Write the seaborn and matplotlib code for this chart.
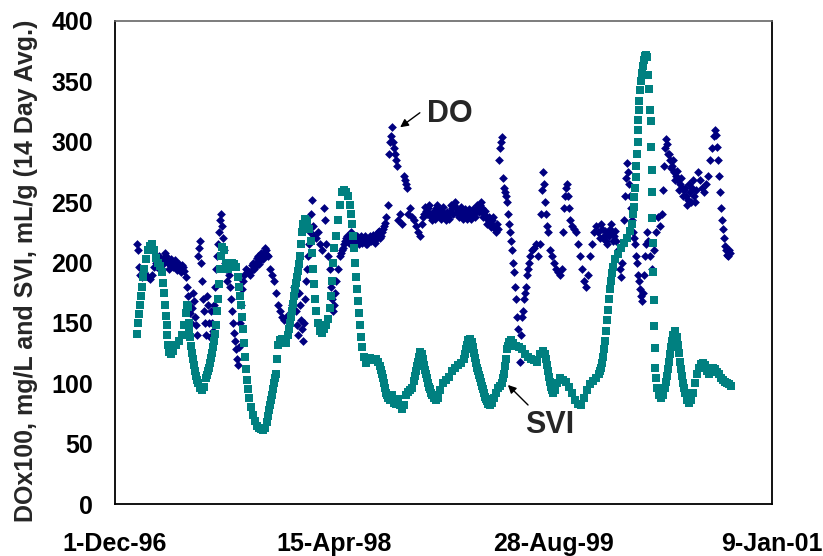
import numpy as np
import pandas as pd
import matplotlib
matplotlib.use("Agg")
import matplotlib.pyplot as plt
import matplotlib.dates as mdates
import seaborn as sns

# ---------------- data ----------------
start_date = "1996-12-01"

do_day = [
    50, 53, 55, 57, 62, 66, 71, 75, 80, 84,
    89, 94, 98, 103, 107, 112, 116, 121, 126, 130,
    135, 139, 144, 148, 153, 158, 162, 164, 167, 169,
    171, 174, 176, 178, 180, 183, 185, 187, 189, 192,
    194, 196, 199, 201, 203, 205, 208, 210, 212, 215,
    217, 219, 221, 224, 226, 228, 231, 233, 235, 237,
    240, 242, 244, 247, 249, 251, 253, 256, 258, 260,
    263, 265, 267, 269, 272, 274, 276, 279, 281, 283,
    285, 288, 290, 292, 295, 299, 304, 308, 313, 317,
    322, 326, 331, 336, 340, 345, 349, 354, 358, 363,
    368, 372, 377, 381, 386, 390, 395, 400, 404, 409,
    411, 413, 416, 418, 420, 422, 425, 427, 429, 432,
    434, 436, 438, 441, 443, 445, 447, 450, 452, 454,
    459, 463, 468, 473, 477, 479, 482, 486, 491, 493,
    495, 498, 500, 502, 505, 509, 514, 518, 523, 527,
    532, 537, 541, 546, 550, 555, 559, 564, 568, 573,
    578, 582, 587, 591, 596, 600, 605, 610, 614, 619,
    623, 626, 628, 630, 632, 635, 637, 639, 642, 644,
    646, 651, 655, 660, 662, 664, 667, 669, 674, 678,
    683, 687, 692, 696, 701, 705, 710, 715, 719, 724,
    728, 733, 737, 742, 747, 751, 756, 760, 765, 769,
    774, 779, 783, 788, 792, 797, 801, 806, 811, 815,
    820, 824, 829, 833, 838, 842, 847, 852, 856, 861,
    865, 870, 874, 877, 879, 881, 884, 886, 888, 890,
    893, 895, 897, 900, 902, 904, 906, 909, 911, 913,
    916, 918, 920, 922, 925, 927, 929, 932, 934, 936,
    938, 941, 943, 945, 947, 952, 957, 961, 966, 970,
    973, 975, 977, 979, 982, 984, 986, 989, 993, 998,
    1002, 1007, 1011, 1016, 1021, 1023, 1025, 1027, 1030, 1032,
    1034, 1037, 1039, 1043, 1048, 1052, 1057, 1062, 1066, 1071,
    1075, 1080, 1084, 1089, 1094, 1098, 1103, 1107, 1112, 1116,
    1121, 1126, 1130, 1135, 1139, 1144, 1148, 1153, 1155, 1158,
    1160, 1162, 1164, 1167, 1169, 1171, 1174, 1176, 1178, 1180,
    1183, 1185, 1187, 1189, 1192, 1194, 1196, 1199, 1201, 1203,
    1205, 1208, 1210, 1212, 1215, 1217, 1221, 1226, 1231, 1235,
    1240, 1244, 1249, 1251, 1253, 1256, 1258, 1260, 1263, 1267,
    1272, 1276, 1281, 1285, 1290, 1295, 1299, 1304, 1308, 1313,
    1317, 1322, 1326, 1331, 1336, 1340, 1345, 1349, 1354, 1358,
    1363, 1368, 1370, 1372, 1374, 1377, 1379, 1381, 1384, 1386,
    1388, 1390, 1393, 1395, 1397, 1400, 1402, 1404,
]
do_val = [
    215, 210, 196, 190, 188, 192, 190, 188, 186, 190,
    196, 200, 202, 200, 198, 204, 205, 200, 198, 200,
    198, 200, 197, 195, 198, 193, 188, 180, 172, 165,
    158, 150, 162, 175, 168, 155, 148, 140, 205, 212,
    218, 200, 185, 170, 160, 150, 140, 172, 165, 150,
    138, 160, 150, 143, 165, 180, 195, 205, 215, 225,
    235, 240, 230, 220, 210, 200, 195, 185, 195, 190,
    180, 170, 160, 150, 142, 135, 128, 120, 115, 130,
    150, 165, 178, 185, 190, 195, 193, 190, 198, 195,
    200, 205, 202, 205, 208, 210, 205, 195, 190, 185,
    175, 165, 160, 155, 152, 155, 153, 158, 165, 180,
    172, 160, 148, 140, 175, 165, 152, 145, 135, 150,
    170, 185, 195, 205, 215, 225, 240, 252, 230, 222,
    220, 225, 215, 210, 245, 235, 215, 205, 195, 180,
    170, 160, 165, 175, 185, 195, 205, 210, 215, 220,
    218, 222, 218, 222, 220, 218, 220, 216, 220, 215,
    218, 222, 220, 218, 222, 225, 220, 225, 230, 238,
    248, 290, 300, 305, 312, 300, 295, 290, 285, 280,
    235, 240, 232, 272, 268, 265, 262, 240, 245, 238,
    235, 230, 225, 222, 232, 240, 243, 245, 240, 235,
    238, 245, 240, 238, 243, 240, 235, 238, 242, 245,
    248, 245, 240, 242, 240, 238, 242, 240, 240, 238,
    240, 243, 245, 248, 245, 240, 238, 235, 232, 235,
    230, 225, 228, 285, 295, 300, 304, 270, 262, 258,
    255, 250, 240, 232, 225, 218, 210, 200, 192, 180,
    170, 155, 145, 130, 118, 140, 155, 160, 170, 175,
    180, 190, 195, 200, 205, 210, 212, 215, 205, 215,
    240, 260, 275, 265, 250, 240, 230, 225, 210, 205,
    200, 195, 192, 190, 195, 225, 245, 255, 262, 265,
    255, 245, 235, 230, 228, 225, 215, 205, 195, 185,
    180, 190, 205, 215, 225, 230, 225, 220, 228, 222,
    218, 225, 228, 225, 222, 218, 210, 195, 188, 200,
    215, 235, 255, 270, 282, 275, 265, 255, 245, 235,
    225, 220, 215, 205, 200, 190, 185, 178, 172, 168,
    175, 190, 205, 215, 225, 218, 205, 195, 210, 225,
    238, 230, 240, 260, 280, 295, 302, 298, 290, 285,
    280, 275, 272, 268, 265, 262, 260, 255, 252, 258,
    262, 255, 260, 275, 268, 262, 258, 265, 272, 285,
    295, 305, 310, 306, 296, 285, 272, 258, 245, 235,
    228, 220, 214, 210, 206, 205, 210, 208,
]

# additional DO readings on the dense, noisy plateaus
do_day_dense = [
    96, 100, 105, 110, 114, 119, 123, 128, 132, 137, 142, 146, 151, 155,
    310, 315, 320, 324, 329, 333, 338, 342, 347,
    516, 521, 525, 530, 534, 539, 543, 548, 553, 557, 562, 566, 571, 575,
    580, 584, 589, 594, 598, 603, 607, 612, 616,
    703, 708, 712, 717, 721, 726, 731, 735, 740, 744, 749, 753, 758, 763,
    767, 772, 776, 781, 785, 790, 795, 799, 804, 808, 813, 817, 822, 826,
    831, 836, 840, 845, 849, 854, 858, 863, 868, 872,
    1110, 1114, 1119, 1123, 1128, 1132, 1137, 1142,
    1265, 1269, 1274, 1279, 1283, 1288, 1292, 1297, 1301, 1306, 1310, 1315,
    1320, 1324,
]
do_val_dense = [
    196, 205, 202, 200, 208, 202, 195, 203, 196, 202, 194, 199, 192, 196,
    193, 200, 196, 204, 199, 208, 203, 212, 206,
    208, 212, 218, 222, 216, 225, 220, 216, 222, 215, 222, 218, 222, 215,
    220, 218, 223, 216, 220, 226, 222, 228, 233,
    238, 246, 240, 248, 238, 242, 236, 248, 243, 236, 246, 238, 242, 236,
    248, 240, 250, 242, 238, 246, 236, 244, 236, 244, 236, 244, 238, 248,
    242, 250, 238, 243, 232, 238, 229, 238, 228, 232,
    232, 220, 226, 215, 222, 232, 218, 226,
    290, 278, 285, 268, 276, 260, 270, 255, 262, 248, 265, 250,
    268, 250,
]

svi_day = [
    50, 53, 55, 57, 59, 62, 64, 66, 71, 75,
    80, 84, 89, 94, 98, 103, 107, 110, 112, 114,
    116, 118, 119, 121, 123, 128, 132, 139, 146, 153,
    158, 162, 164, 167, 169, 171, 176, 180, 185, 189,
    194, 199, 203, 208, 212, 217, 221, 226, 231, 233,
    235, 237, 240, 242, 244, 249, 253, 258, 263, 267,
    272, 276, 281, 283, 285, 288, 290, 292, 295, 297,
    299, 301, 304, 306, 310, 315, 320, 324, 329, 333,
    338, 342, 347, 349, 354, 358, 363, 368, 370, 372,
    377, 381, 386, 390, 395, 400, 404, 409, 413, 418,
    422, 425, 427, 429, 434, 438, 443, 447, 450, 452,
    454, 457, 459, 463, 468, 473, 477, 482, 486, 491,
    493, 495, 498, 500, 505, 509, 514, 518, 523, 527,
    532, 537, 539, 541, 543, 546, 548, 550, 553, 555,
    557, 559, 562, 564, 568, 573, 578, 582, 587, 591,
    596, 600, 605, 610, 614, 619, 623, 628, 632, 637,
    642, 646, 651, 655, 660, 664, 669, 674, 678, 683,
    687, 692, 696, 701, 705, 710, 715, 719, 724, 728,
    733, 737, 742, 749, 756, 763, 769, 776, 783, 790,
    797, 801, 806, 811, 815, 820, 824, 829, 833, 838,
    842, 847, 852, 856, 861, 865, 870, 874, 879, 884,
    888, 893, 895, 900, 904, 909, 916, 922, 929, 936,
    943, 950, 957, 963, 970, 977, 982, 986, 991, 995,
    1000, 1005, 1009, 1016, 1023, 1030, 1037, 1043, 1050, 1057,
    1064, 1071, 1078, 1084, 1091, 1098, 1105, 1110, 1114, 1119,
    1123, 1128, 1132, 1137, 1142, 1148, 1155, 1162, 1169, 1176,
    1180, 1183, 1185, 1186, 1188, 1189, 1190, 1191, 1193, 1194,
    1195, 1196, 1197, 1199, 1201, 1203, 1205, 1208, 1210, 1213,
    1215, 1217, 1219, 1222, 1223, 1224, 1225, 1226, 1227, 1228,
    1229, 1230, 1231, 1233, 1234, 1236, 1238, 1242, 1247, 1251,
    1256, 1260, 1265, 1269, 1274, 1279, 1283, 1288, 1292, 1297,
    1301, 1306, 1310, 1315, 1320, 1324, 1329, 1333, 1338, 1342,
    1347, 1352, 1356, 1361, 1365, 1370, 1374, 1379, 1384, 1388,
    1393, 1397, 1402, 1406,
]
svi_val = [
    141, 150, 157, 165, 172, 180, 188, 195, 203, 210,
    214, 215, 210, 204, 200, 197, 192, 183, 175, 165,
    156, 148, 140, 132, 126, 124, 127, 132, 135, 140,
    148, 158, 165, 163, 150, 138, 125, 115, 106, 100,
    96, 94, 97, 104, 110, 117, 125, 135, 148, 160,
    170, 182, 195, 205, 213, 210, 200, 195, 197, 200,
    199, 196, 188, 180, 172, 165, 155, 145, 133, 122,
    112, 103, 95, 88, 80, 74, 69, 65, 63, 62,
    61, 63, 68, 73, 82, 90, 100, 108, 120, 132,
    136, 137, 135, 133, 140, 150, 160, 172, 183, 193,
    205, 215, 225, 232, 236, 234, 228, 218, 208, 195,
    182, 170, 160, 150, 143, 142, 145, 148, 153, 162,
    172, 185, 200, 212, 222, 235, 248, 258, 260, 258,
    255, 248, 240, 232, 222, 212, 200, 188, 178, 168,
    158, 148, 138, 130, 122, 117, 120, 121, 120, 119,
    120, 118, 114, 108, 100, 92, 88, 86, 90, 84,
    83, 87, 82, 79, 82, 90, 93, 94, 96, 102,
    110, 118, 126, 124, 115, 108, 100, 95, 90, 88,
    86, 88, 94, 100, 103, 105, 110, 113, 115, 117,
    120, 128, 136, 137, 134, 125, 117, 110, 104, 98,
    92, 87, 83, 82, 84, 88, 92, 96, 98, 100,
    108, 120, 128, 134, 136, 133, 131, 130, 128, 124,
    122, 120, 119, 118, 124, 127, 124, 115, 105, 97,
    92, 94, 100, 104, 103, 101, 97, 92, 86, 83,
    82, 88, 94, 99, 102, 104, 108, 113, 122, 135,
    152, 170, 185, 196, 203, 207, 212, 216, 220, 226,
    232, 240, 246, 254, 262, 271, 280, 290, 300, 310,
    318, 326, 334, 343, 350, 357, 363, 368, 371, 372,
    370, 355, 344, 326, 317, 296, 277, 258, 237, 216,
    192, 169, 147, 129, 113, 104, 96, 90, 88, 90,
    96, 106, 118, 130, 140, 143, 138, 125, 112, 100,
    92, 86, 84, 86, 92, 100, 108, 113, 116, 117,
    115, 110, 108, 112, 113, 112, 109, 108, 104, 103,
    101, 100, 99, 98,
]

# additional SVI readings on the steep, continuous stretches
svi_day_dense = [
    170, 174, 178, 183, 187,
    210, 215, 219, 224, 228,
    351, 356, 360, 365,
    397, 402, 406, 411, 415, 420,
    607, 612, 616, 621,
    685, 689, 694,
    703, 708, 712, 717, 721,
    799, 804, 817, 822, 826, 831, 836, 840, 845, 849,
    886, 890, 897,
    984, 989, 993, 998,
    1107, 1112, 1116, 1121, 1126, 1130, 1135,
    1258, 1263, 1267, 1272, 1285, 1290, 1295, 1299,
]
svi_val_dense = [
    145, 131, 120, 110, 103,
    107, 113, 121, 130, 141,
    78, 86, 95, 104,
    145, 155, 166, 178, 188, 199,
    111, 104, 96, 90,
    106, 114, 122,
    120, 111, 104, 97, 92,
    124, 132, 130, 121, 113, 107, 101, 95, 89, 85,
    104, 114, 131,
    120, 110, 101, 94,
    110, 117, 128, 143, 161, 178, 191,
    101, 112, 124, 135, 132, 118, 106, 96,
]

x_tick_dates = ["1996-12-01", "1998-04-15", "1999-08-28", "2001-01-09"]
x_tick_labels = ["1-Dec-96", "15-Apr-98", "28-Aug-99", "9-Jan-01"]
y_ticks = [0, 50, 100, 150, 200, 250, 300, 350, 400]
y_label = "DOx100, mg/L and SVI, mL/g (14 Day Avg.)"

# ---------------- style ----------------
sns.set_style("white")
plt.rcParams["font.family"] = ["Liberation Sans", "DejaVu Sans"]
plt.rcParams["font.weight"] = "bold"

t0 = pd.Timestamp(start_date)
do_df = pd.DataFrame({
    "date": t0 + pd.to_timedelta(do_day + do_day_dense, unit="D"),
    "value": do_val + do_val_dense,
})
svi_df = pd.DataFrame({
    "date": t0 + pd.to_timedelta(svi_day + svi_day_dense, unit="D"),
    "value": svi_val + svi_val_dense,
})

fig = plt.figure(figsize=(8.23, 5.56), dpi=100)
ax = fig.add_axes([115 / 823, 1 - 504 / 556, 657 / 823, 483 / 556])

sns.scatterplot(data=do_df, x="date", y="value", marker="D", color="#000080",
                s=20, linewidth=0, ax=ax, legend=False, zorder=3)
sns.scatterplot(data=svi_df, x="date", y="value", marker="s", color="#008080",
                s=34, linewidth=0, ax=ax, legend=False, zorder=4)

ax.set_xlim(pd.Timestamp(x_tick_dates[0]), pd.Timestamp(x_tick_dates[-1]))
ax.set_ylim(0, 400)
ax.set_xticks([mdates.date2num(pd.Timestamp(d)) for d in x_tick_dates])
ax.set_xticklabels(x_tick_labels, fontsize=18, fontweight="bold")
ax.set_yticks(y_ticks)
ax.set_yticklabels([str(v) for v in y_ticks], fontsize=18, fontweight="bold")
ax.tick_params(axis="x", direction="in", length=6, width=1, pad=20, colors="black")
ax.tick_params(axis="y", direction="in", length=6, width=1, pad=16, colors="black")
ax.set_xlabel("")
ax.set_ylabel(y_label, fontsize=18, fontweight="bold")
ax.yaxis.set_label_coords(-0.117, 0.482)

for side in ["left", "bottom", "right"]:
    ax.spines[side].set_color("black")
    ax.spines[side].set_linewidth(1.3)
ax.spines["top"].set_color("#666666")
ax.spines["top"].set_linewidth(1.2)
ax.grid(False)

# annotations
ax.text(t0 + pd.Timedelta(days=712), 316, "DO", fontsize=22, fontweight="bold",
        ha="left", va="baseline")
ax.annotate("", xy=(t0 + pd.Timedelta(days=651), 312),
            xytext=(t0 + pd.Timedelta(days=696), 324),
            arrowprops=dict(arrowstyle="-|>", color="black", lw=1, mutation_scale=12,
                            shrinkA=0, shrinkB=0))
ax.text(t0 + pd.Timedelta(days=936), 59, "SVI", fontsize=22, fontweight="bold",
        ha="left", va="baseline")
ax.annotate("", xy=(t0 + pd.Timedelta(days=897), 98.6),
            xytext=(t0 + pd.Timedelta(days=943), 82),
            arrowprops=dict(arrowstyle="-|>", color="black", lw=1, mutation_scale=12,
                            shrinkA=0, shrinkB=0))

fig.savefig("out.png", dpi=100)
